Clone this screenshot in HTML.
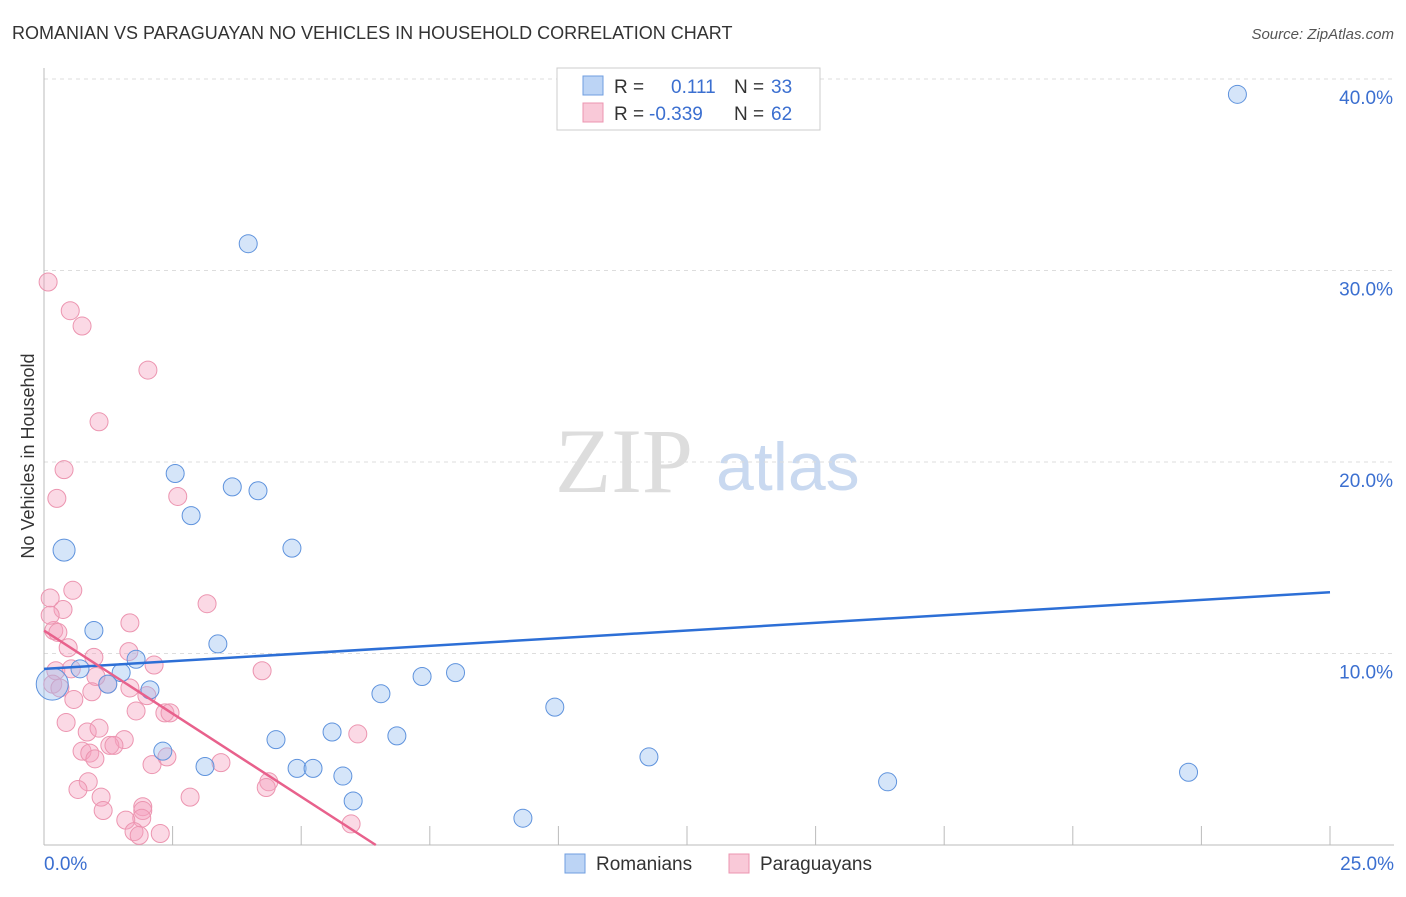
<!DOCTYPE html>
<html><head><meta charset="utf-8"><style>
body{margin:0;background:#fff;font-family:"Liberation Sans",sans-serif}
</style></head><body>
<svg id="chart" width="1406" height="892" xmlns="http://www.w3.org/2000/svg" font-family="Liberation Sans, sans-serif">
<text x="12" y="39" font-size="18" fill="#333">ROMANIAN VS PARAGUAYAN NO VEHICLES IN HOUSEHOLD CORRELATION CHART</text>
<text x="1394" y="39" font-size="15" fill="#555" text-anchor="end" font-style="italic">Source: ZipAtlas.com</text>
<text transform="translate(34,456) rotate(-90)" font-size="18" fill="#333" text-anchor="middle">No Vehicles in Household</text>
<text x="555" y="492" font-size="92" fill="#ddd" font-family="Liberation Serif, serif">ZIP</text>
<text x="716" y="490" font-size="68" fill="#c9d9f0">atlas</text>
<g id="grid"></g><g id="axes"></g><g id="marks"></g>
<g>
<rect x="557" y="68" width="263" height="62" fill="#fff" stroke="#ccc"/>
<rect x="583" y="76" width="20" height="19" fill="#bcd4f5" stroke="#6f9ee0"/>
<rect x="583" y="103" width="20" height="19" fill="#f9c9d8" stroke="#ec95b0"/>
<text x="614" y="93" font-size="19" fill="#333">R =</text><text x="671" y="93" font-size="19" fill="#3b6fd0">0.111</text>
<text x="734" y="93" font-size="19" fill="#333">N =</text><text x="771" y="93" font-size="19" fill="#3b6fd0">33</text>
<text x="614" y="120" font-size="19" fill="#333">R =</text><text x="649" y="120" font-size="19" fill="#3b6fd0">-0.339</text>
<text x="734" y="120" font-size="19" fill="#333">N =</text><text x="771" y="120" font-size="19" fill="#3b6fd0">62</text>
</g>
<g>
<rect x="565" y="854" width="20" height="19" fill="#bcd4f5" stroke="#6f9ee0"/>
<text x="596" y="870" font-size="19" fill="#333">Romanians</text>
<rect x="729" y="854" width="20" height="19" fill="#f9c9d8" stroke="#ec95b0"/>
<text x="760" y="870" font-size="19" fill="#333">Paraguayans</text>
</g>
</svg>
<script>
const blueX=[23.2,3.97,2.55,3.66,4.16,2.86,0.39,4.82,0.97,3.38,1.79,0.7,1.5,8.0,7.35,1.24,2.06,0.16,6.55,9.93,5.6,4.51,6.86,2.31,11.76,3.13,4.92,5.23,5.81,16.4,22.25,6.01,9.31];
const blueY=[39.2,31.4,19.4,18.7,18.5,17.2,15.4,15.5,11.2,10.5,9.7,9.2,9.0,9.0,8.8,8.4,8.1,8.4,7.9,7.2,5.9,5.5,5.7,4.9,4.6,4.1,4.0,4.0,3.6,3.3,3.8,2.3,1.4];
const blueR=[9,9,9,9,9,9,11,9,9,9,9,9,9,9,9,9,9,16,9,9,9,9,9,9,9,9,9,9,9,9,9,9,9];
const pinkX=[0.08,0.51,0.74,2.02,1.07,0.39,0.25,2.6,0.56,0.12,0.37,3.17,1.67,0.19,0.27,0.47,1.65,0.97,4.24,2.14,0.23,0.53,1.24,0.17,1.01,0.93,2.0,0.58,2.35,1.79,2.45,0.43,0.84,1.07,6.1,1.56,1.28,1.36,0.74,0.89,0.99,2.1,2.39,3.44,4.37,4.32,0.86,0.66,1.11,2.84,1.15,1.92,1.92,1.9,1.59,1.75,1.85,2.26,5.97,0.12,0.31,1.67];
const pinkY=[29.4,27.9,27.1,24.8,22.1,19.6,18.1,18.2,13.3,12.9,12.3,12.6,11.6,11.2,11.1,10.3,10.1,9.8,9.1,9.4,9.1,9.2,8.4,8.4,8.8,8.0,7.8,7.6,6.9,7.0,6.9,6.4,5.9,6.1,5.8,5.5,5.2,5.2,4.9,4.8,4.5,4.2,4.6,4.3,3.3,3.0,3.3,2.9,2.5,2.5,1.8,2.0,1.8,1.4,1.3,0.7,0.5,0.6,1.1,12.0,8.2,8.2];
const xTicks=[0,2.5,5,7.5,10,12.5,15,17.5,20,22.5,25];
const yTicks=[10,20,30,40];
const blueTrend=[[0,9.2],[25,13.2]];
const pinkTrend=[[0,11.2],[6.45,0]];
const NS="http://www.w3.org/2000/svg";
const X=v=>44+v*51.44, Y=v=>845-v*19.15;
function mk(t,a,p){const e=document.createElementNS(NS,t);for(const k in a)e.setAttribute(k,a[k]);p.appendChild(e);return e;}
const grid=document.getElementById('grid'),axes=document.getElementById('axes'),marks=document.getElementById('marks');
yTicks.forEach(t=>{
 const l=mk('line',{x1:44,x2:1394,y1:Y(t),y2:Y(t),stroke:'#ddd','stroke-dasharray':'4,4'},grid);
 
 
 const tx=mk('text',{x:1393,y:Y(t)+25,'font-size':19,fill:'#3b6fd0','text-anchor':'end'},grid);
 tx.textContent=t.toFixed(1)+'%';
 
 
});
const xa=mk('line',{x1:44,x2:1394,y1:845,y2:845,stroke:'#bbb'},axes);


const ya=mk('line',{x1:44,x2:44,y1:68,y2:845,stroke:'#bbb'},axes);


xTicks.forEach(t=>{
 const l=mk('line',{x1:X(t),x2:X(t),y1:826,y2:845,stroke:'#bbb'},axes);
 
 
});
[[0,'start'],[25,'end']].forEach(([t,a])=>{
 const tx=mk('text',{x:t==0?44:1394,y:870,'font-size':19,fill:'#3b6fd0','text-anchor':a},axes);
 tx.textContent=t.toFixed(1)+'%';
 
 
});
pinkX.forEach((x,i)=>{
 const c=mk('circle',{cx:X(x),cy:Y(pinkY[i]),r:9,fill:'rgba(245,160,190,0.4)',stroke:'#ec95b0','stroke-width':1},marks);
 
 
});
blueX.forEach((x,i)=>{
 const c=mk('circle',{cx:X(x),cy:Y(blueY[i]),r:blueR[i],fill:'rgba(150,190,240,0.4)',stroke:'#5f93dd','stroke-width':1},marks);
 
 
});
const bt=mk('line',{x1:X(blueTrend[0][0]),y1:Y(blueTrend[0][1]),x2:X(blueTrend[1][0]),y2:Y(blueTrend[1][1]),stroke:'#2d6fd6','stroke-width':2.5},marks);


const pt=mk('line',{x1:X(pinkTrend[0][0]),y1:Y(pinkTrend[0][1]),x2:X(pinkTrend[1][0]),y2:Y(pinkTrend[1][1]),stroke:'#e8618c','stroke-width':2.5},marks);


</script>
</body></html>
